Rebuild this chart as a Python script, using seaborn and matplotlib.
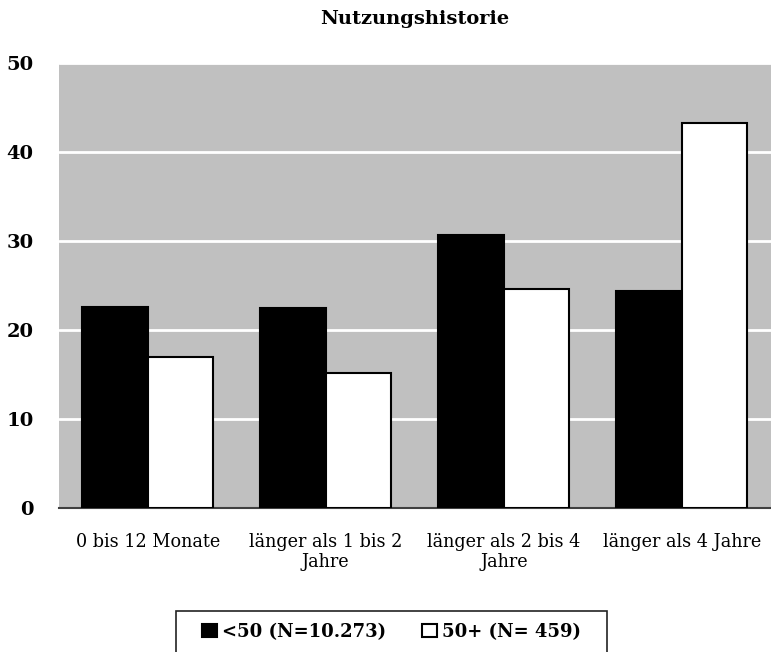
import pandas as pd
import matplotlib.pyplot as plt
import seaborn as sns
from matplotlib.patches import Rectangle

kategorien = ["0 bis 12 Monate", "länger als 1 bis 2\nJahre", "länger als 2 bis 4\nJahre", "länger als 4 Jahre"]
gruppen = ["<50 (N=10.273)", "50+ (N= 459)"]
werte_unter50 = [22.6, 22.5, 30.6, 24.4]
werte_50plus = [16.9, 15.1, 24.6, 43.2]

df = pd.DataFrame({
    "Kategorie": kategorien * 2,
    "Gruppe": [gruppen[0]] * 4 + [gruppen[1]] * 4,
    "Wert": werte_unter50 + werte_50plus,
})

sns.set_style("white")
plt.rcParams['font.family'] = ['DejaVu Serif']
plt.rcParams['text.color'] = 'black'
plt.rcParams['xtick.color'] = 'black'
plt.rcParams['ytick.color'] = 'black'

fig = plt.figure(figsize=(7.71, 6.52), dpi=100)
ax = fig.add_axes([0.076, 0.221, 0.924, 0.683])
ax.set_facecolor("#c0c0c0")

sns.barplot(data=df, x="Kategorie", y="Wert", hue="Gruppe", palette=["black", "white"],
            edgecolor="black", linewidth=1.5, width=0.736, gap=0, ax=ax, zorder=3)

ax.set_ylim(0, 50)
ax.set_xlim(-0.5, 3.5)
ax.set_yticks([0, 10, 20, 30, 40, 50])
ax.yaxis.grid(True, color="white", linewidth=2, zorder=1)
ax.set_axisbelow(True)
for s in ["top", "right", "left"]:
    ax.spines[s].set_visible(False)
ax.spines["bottom"].set_color("#404040")
ax.spines["bottom"].set_linewidth(1.5)
ax.tick_params(axis="both", length=0, labelcolor="black")
ax.tick_params(axis="y", pad=18, labelsize=14)
ax.tick_params(axis="x", pad=18, labelsize=12.7)
for lbl in ax.get_yticklabels():
    lbl.set_fontweight("bold")
for lbl in ax.get_xticklabels():
    lbl.set_linespacing(1.15)
ax.set_xlabel("")
ax.set_ylabel("")
ax.set_title("Nutzungshistorie", fontsize=14, fontweight="bold", pad=28, color="black")

handles, labels = ax.get_legend_handles_labels()
ax.legend_.remove()
fig.legend(handles, labels, loc="center", bbox_to_anchor=(0.508, 0.031), ncol=2,
           frameon=False, handlelength=0.8, handleheight=0.8, handletextpad=0.3,
           columnspacing=2.0, labelcolor="black", prop={"weight": "bold", "size": 13})
# Rahmen um die Legende
fig.patches.append(Rectangle((0.228, -0.01), 0.559, 0.073, transform=fig.transFigure,
                             facecolor="none", edgecolor="#222222", linewidth=1.2))

plt.savefig("out.png", dpi=100)
